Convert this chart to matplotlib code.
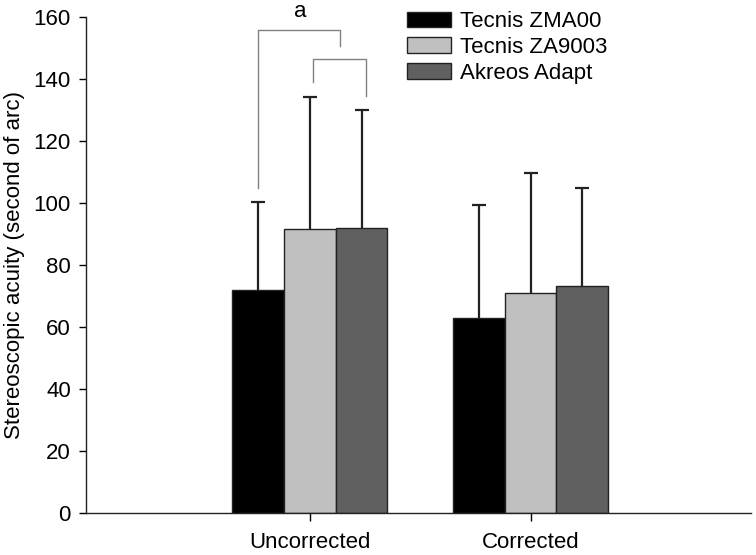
import matplotlib
matplotlib.use("Agg")
import matplotlib.pyplot as plt
import numpy as np

plt.rcParams['font.family'] = ['Liberation Sans', 'DejaVu Sans']

# data
groups = ["Uncorrected", "Corrected"]
lenses = ["Tecnis ZMA00", "Tecnis ZA9003", "Akreos Adapt"]
zma00 = [72.0, 62.9]
za9003 = [91.6, 71.0]
akreos = [92.0, 73.2]
zma00_sd = [28.3, 36.5]
za9003_sd = [42.6, 38.6]
akreos_sd = [38.0, 31.6]
yticks = [0, 20, 40, 60, 80, 100, 120, 140, 160]

colors = ["#000000", "#c0c0c0", "#606060"]

fig = plt.figure(figsize=(7.56, 5.55), dpi=100)
ax = fig.add_axes([0.1138, 0.0757, 0.880, 0.8937])

x = np.arange(1, len(groups) + 1)
w = 0.234
means = [zma00, za9003, akreos]
sds = [zma00_sd, za9003_sd, akreos_sd]
for i in range(3):
    pos = x + (i - 1) * w
    # error bars drawn under the bars so only the upper half shows
    ax.errorbar(pos, means[i], yerr=sds[i], fmt="none",
                ecolor="#222222", elinewidth=1.6, capsize=5, capthick=1.6, zorder=1)
    ax.bar(pos, means[i], width=w, color=colors[i], edgecolor="#222222",
           linewidth=1, label=lenses[i], zorder=2)

# significance brackets (uncorrected group)
bc = "#808080"
x0 = x[0] - w
ax.plot([x0, x0, x[0] + 0.135, x[0] + 0.135], [104.8, 155.8, 155.8, 150.6],
        color=bc, lw=1.0, clip_on=False, zorder=4)
ax.plot([x[0] + 0.015, x[0] + 0.015, x[0] + w + 0.02, x[0] + w + 0.02],
        [139, 146.5, 146.5, 134.5], color=bc, lw=1.0, clip_on=False, zorder=4)
ax.text(x[0] - 0.045, 158.5, "a", fontsize=16, ha="center", va="bottom")

ax.set_xlim(-0.014, 3.0)
ax.set_ylim(0, 160)
ax.set_xticks(x)
ax.set_xticklabels(groups, fontsize=16)
ax.set_yticks(yticks)
ax.tick_params(axis="y", labelsize=16, direction="out", length=5, width=1, pad=6)
ax.tick_params(axis="x", direction="out", length=6, width=1, pad=8)
ax.set_ylabel("Stereoscopic acuity (second of arc)", fontsize=16, labelpad=6)
for s in ["top", "right"]:
    ax.spines[s].set_visible(False)
for s in ["left", "bottom"]:
    ax.spines[s].set_linewidth(1)
    ax.spines[s].set_color("#222222")

ax.legend(loc="upper left", bbox_to_anchor=(407 / 756, 1 - 11 / 555),
          bbox_transform=fig.transFigure, frameon=False, fontsize=16,
          handlelength=2.0, handleheight=0.68, labelspacing=0.22,
          handletextpad=0.4, borderpad=0, borderaxespad=0)

fig.savefig("out.png", dpi=100)
